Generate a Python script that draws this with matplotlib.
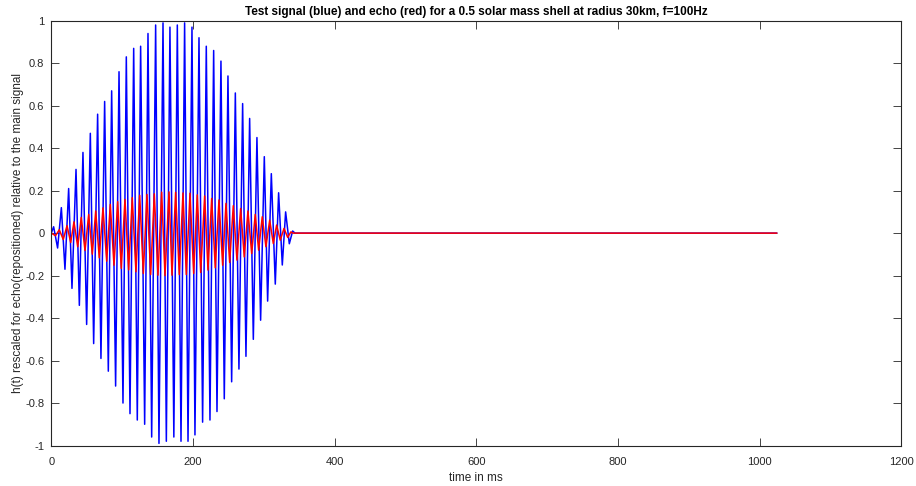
import numpy as np
import matplotlib
matplotlib.use('Agg')
import matplotlib.pyplot as plt

plt.rcParams['font.family'] = ['Liberation Sans', 'DejaVu Sans']

# test signal (blue): positive peaks and troughs, time in ms
blue_peak_t = [3.3, 14.2, 24.5, 34.9, 44.7, 55.1, 65.4, 75.3, 85.2, 95.6, 105.9, 116.3,
               126.1, 136.5, 147.3, 157.7, 167.5, 177.9, 188.2, 198.6, 208.5, 218.8,
               229.2, 239.5, 249.4, 259.8, 270.1, 280.0, 290.3, 300.7, 310.6, 320.9,
               330.8, 340.7]
blue_peak_h = [0.03, 0.12, 0.21, 0.30, 0.38, 0.47, 0.56, 0.62, 0.67, 0.76, 0.83, 0.87,
               0.88, 0.94, 0.98, 0.99, 0.97, 0.98, 0.99, 0.97, 0.92, 0.88, 0.86, 0.81,
               0.74, 0.66, 0.61, 0.54, 0.45, 0.36, 0.28, 0.19, 0.10, 0.01]
blue_trough_t = [8.9, 19.3, 29.2, 39.6, 49.9, 59.8, 70.1, 80.5, 90.8, 101.2, 111.1,
                 121.4, 131.8, 141.7, 152.0, 162.4, 173.0, 183.1, 193.0, 202.8, 213.6,
                 224.0, 233.9, 244.2, 254.6, 264.9, 274.8, 285.2, 295.5, 305.4, 316.2,
                 326.1, 336.0]
blue_trough_h = [-0.07, -0.17, -0.26, -0.34, -0.43, -0.52, -0.59, -0.65, -0.72, -0.80,
                 -0.85, -0.88, -0.90, -0.96, -0.99, -0.98, -0.96, -0.98, -0.98, -0.95,
                 -0.89, -0.88, -0.84, -0.78, -0.70, -0.64, -0.58, -0.50, -0.41, -0.32,
                 -0.24, -0.15, -0.05]

# echo (red), same idea
red_peak_t = [11.3, 22.2, 32.0, 42.3, 52.8, 62.7, 73.0, 83.3, 93.7, 104.0, 114.3, 124.8,
              135.1, 145.4, 155.8, 166.2, 175.5, 185.9, 195.8, 206.1, 216.5, 226.4,
              236.7, 246.6, 256.9, 267.3, 277.6, 287.9, 297.8, 308.3, 318.1, 328.5,
              338.3]
red_peak_h = [0.016, 0.035, 0.053, 0.074, 0.088, 0.104, 0.119, 0.135, 0.148, 0.159,
              0.167, 0.178, 0.182, 0.185, 0.193, 0.194, 0.192, 0.189, 0.188, 0.180,
              0.175, 0.163, 0.156, 0.140, 0.129, 0.116, 0.104, 0.088, 0.077, 0.061,
              0.038, 0.022, 0.006]
red_trough_t = [6.0, 16.9, 27.4, 37.3, 47.6, 57.9, 67.7, 78.2, 88.5, 98.8, 109.2, 119.5,
                129.9, 140.3, 150.6, 160.5, 170.4, 180.7, 190.6, 201.0, 210.9, 221.2,
                231.5, 241.9, 251.8, 262.1, 272.4, 282.9, 292.7, 303.0, 313.4, 323.2,
                333.7]
red_trough_h = [-0.012, -0.030, -0.044, -0.064, -0.082, -0.099, -0.116, -0.132, -0.151,
                -0.166, -0.173, -0.182, -0.190, -0.195, -0.198, -0.200, -0.198, -0.195,
                -0.195, -0.190, -0.185, -0.174, -0.163, -0.151, -0.138, -0.127, -0.112,
                -0.096, -0.080, -0.064, -0.049, -0.033, -0.020]

# both signals sit at zero after the pulse, up to the end of the record
blue_quiet_t = [0.0, 344.0, 1024.0]
red_quiet_t = [0.0, 341.0, 1024.0]


def build(peak_t, peak_h, trough_t, trough_h, quiet_t):
    t = np.concatenate([peak_t, trough_t, quiet_t])
    h = np.concatenate([peak_h, trough_h, np.zeros(len(quiet_t))])
    order = np.argsort(t)
    return t[order], h[order]


tb, hb = build(blue_peak_t, blue_peak_h, blue_trough_t, blue_trough_h, blue_quiet_t)
tr, hr = build(red_peak_t, red_peak_h, red_trough_t, red_trough_h, red_quiet_t)

fig = plt.figure(figsize=(9.16, 4.86), dpi=100)
ax = fig.add_axes([0.056, 0.0833, 0.928, 0.874])

ax.plot(tb, hb, color='b', linewidth=1.1, solid_joinstyle='round')
ax.plot(tr, hr, color='r', linewidth=1.1, solid_joinstyle='round')

ax.set_xlim(0, 1200)
ax.set_ylim(-1, 1)
ax.set_xticks(np.arange(0, 1201, 200))
ax.set_yticks(np.arange(-1, 1.01, 0.2))
ax.set_yticklabels(['-1', '-0.8', '-0.6', '-0.4', '-0.2', '0', '0.2', '0.4', '0.6', '0.8', '1'])

edge = '#262626'
for s in ax.spines.values():
    s.set_color(edge)
    s.set_linewidth(0.8)
ax.tick_params(direction='in', length=6, width=0.6, colors=edge, labelsize=8,
               top=True, right=True)
ax.tick_params(axis='x', pad=8)
ax.tick_params(axis='y', pad=5)

ax.set_xlabel('time in ms', fontsize=8.5, color=edge, labelpad=4)
ax.set_ylabel('h(t) rescaled for echo(repositioned) relative to the main signal',
              fontsize=8.5, color=edge, labelpad=1)
ax.set_title('Test signal (blue) and echo (red) for a 0.5 solar mass shell at radius 30km, f=100Hz',
             fontsize=8.5, fontweight='bold', pad=4)

fig.savefig('out.png', dpi=100)
